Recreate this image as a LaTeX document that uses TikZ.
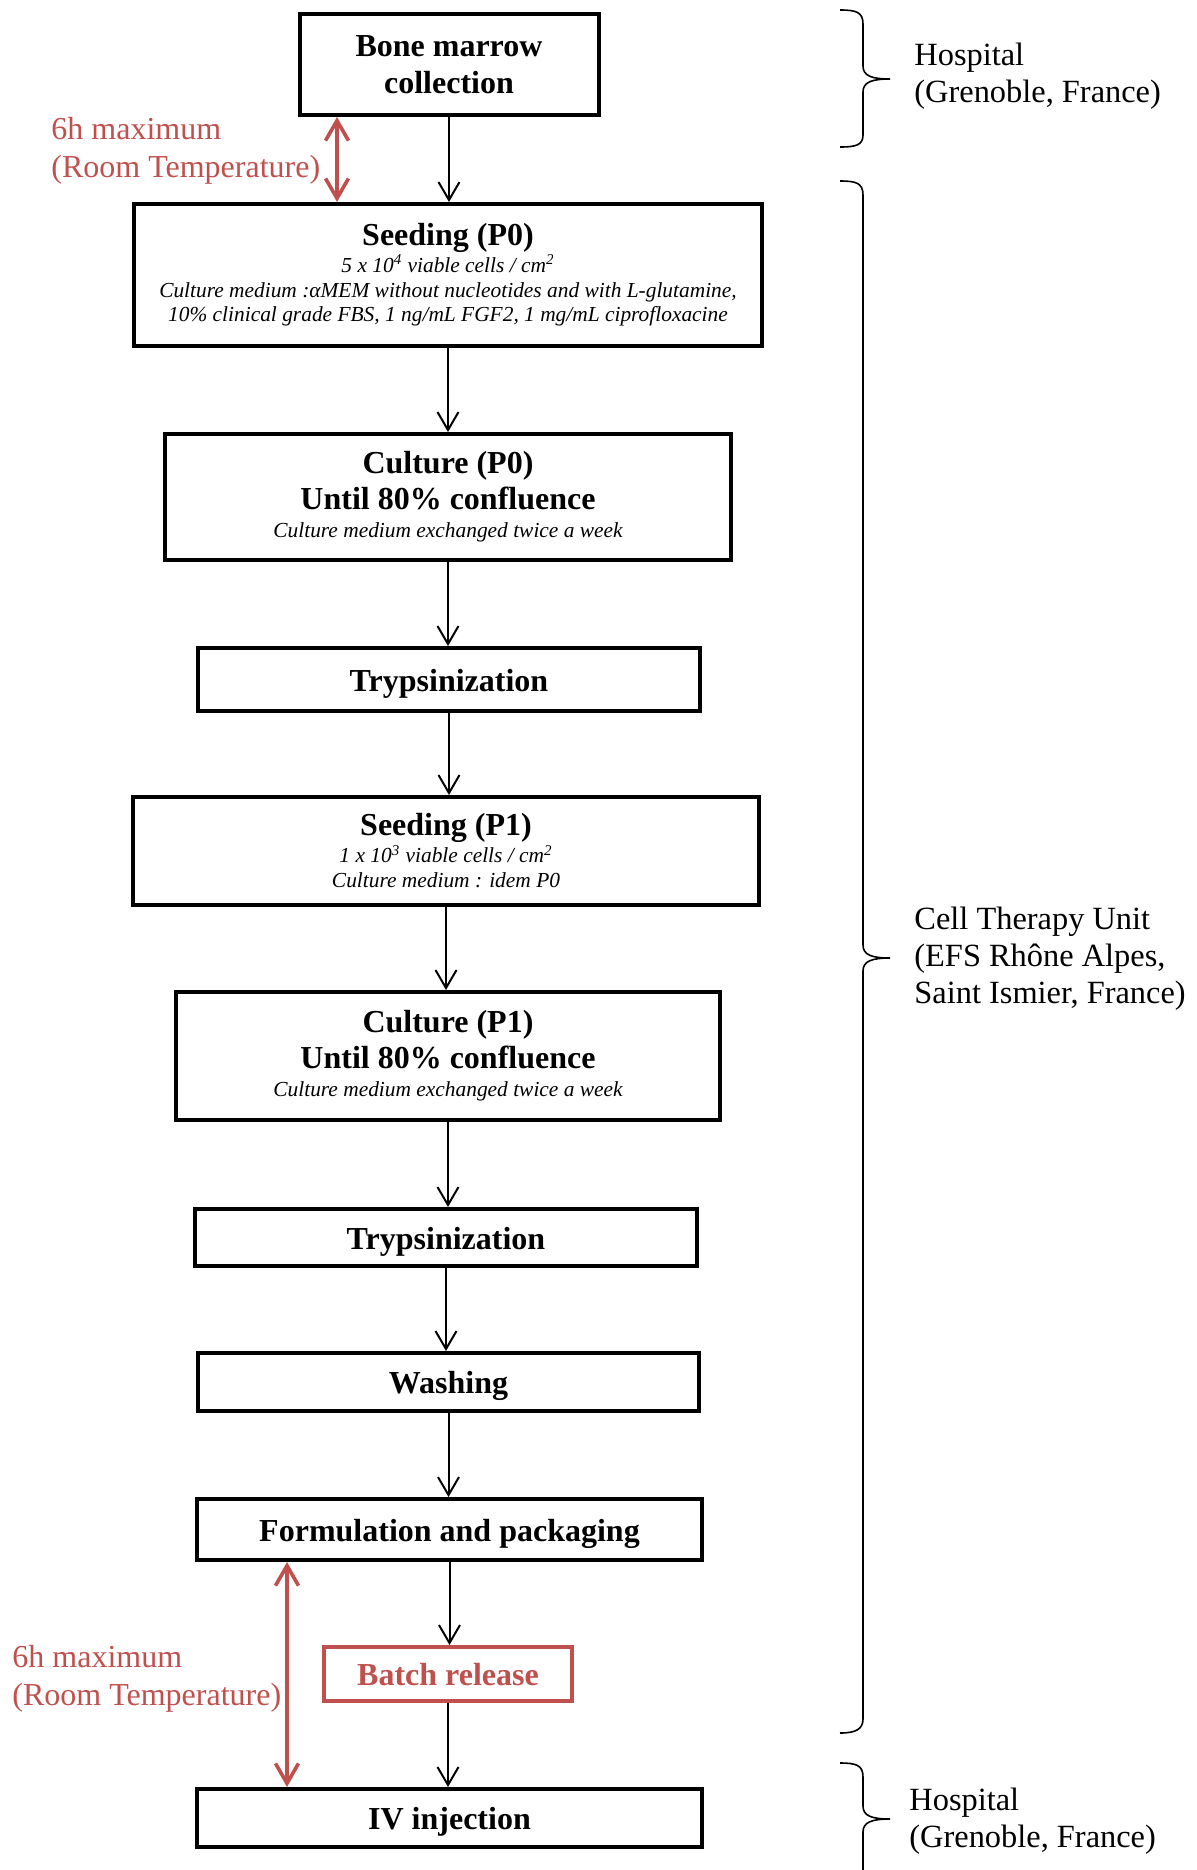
\documentclass[tikz,border=0pt]{standalone}
\usepackage{fontspec}
\setmainfont{Liberation Serif}
\usetikzlibrary{arrows.meta}
\definecolor{myred}{RGB}{192,80,77}
\newcommand\smallit[1]{{\fontsize{10.7}{12}\selectfont\mdseries\itshape #1}}
\begin{document}
\begin{tikzpicture}[x=0.5pt,y=-0.5pt,
  box/.style={draw, line width=2pt, inner sep=0pt, align=center, font=\fontsize{16}{18}\selectfont\bfseries},
  onebox/.style={box, text height=11.5pt, text depth=0pt},
  arr/.style={line width=1pt, -{Straight Barb[length=9pt,width=10.5pt]}},
  redarr/.style={myred, line width=1.8pt, {Straight Barb[length=10pt,width=11.5pt]}-{Straight Barb[length=10pt,width=11.5pt]}},
  bracestyle/.style={line width=0.8pt},
  side/.style={anchor=north west, inner sep=0pt, align=left, font=\fontsize{16.2}{18.5}\selectfont},
  redtxt/.style={anchor=north west, inner sep=0pt, align=left, text=myred, font=\fontsize{16}{18.75}\selectfont}]

\useasboundingbox (0,0) rectangle (1196,1870);

% boxes
\node[box, minimum width=149.5pt, minimum height=50.5pt] (bone) at (449,64.5) {Bone marrow\\[0.5pt]collection};
\node[box, minimum width=314pt, minimum height=71pt] (seed0) at (448,275) {Seeding (P0)\\[-4.5pt]\smallit{5 x 10\textsuperscript{4} viable cells / cm\textsuperscript{2}}\\[-5.75pt]\smallit{Culture medium :αMEM without nucleotides and with L-glutamine,}\\[-5.75pt]\smallit{10\% clinical grade FBS, 1 ng/mL FGF2, 1 mg/mL ciprofloxacine}};
\node[box, minimum width=283pt, minimum height=63pt] (cult0) at (448,497) {Culture (P0)\\[0pt]Until 80\% confluence\\[-4pt]\smallit{Culture medium exchanged twice a week}};
\node[onebox, minimum width=251pt, minimum height=31.5pt] (tryp1) at (449,679.5) {Trypsinization};
\node[box, minimum width=313pt, minimum height=54pt] (seed1) at (446,851) {Seeding (P1)\\[-4.5pt]\smallit{1 x 10\textsuperscript{3} viable cells / cm\textsuperscript{2}}\\[-5.5pt]\smallit{Culture medium : idem P0}};
\node[box, minimum width=272pt, minimum height=64pt] (cult1) at (448,1056) {Culture (P1)\\[0pt]Until 80\% confluence\\[-4pt]\smallit{Culture medium exchanged twice a week}};
\node[onebox, minimum width=251pt, minimum height=28.5pt] (tryp2) at (446,1237.5) {Trypsinization};
\node[onebox, minimum width=250.5pt, minimum height=29pt] (wash) at (448.5,1382) {Washing};
\node[onebox, minimum width=252.5pt, minimum height=30.5pt] (form) at (449.5,1529.5) {Formulation and packaging};
\node[onebox, draw=myred, text=myred, minimum width=124pt, minimum height=27pt] (batch) at (448,1674) {Batch release};
\node[onebox, minimum width=252.5pt, minimum height=29pt] (iv) at (449.5,1818) {IV injection};

% connectors
\draw[arr] (bone.south) -- (bone.south |- seed0.north);
\draw[arr] (seed0.south) -- (seed0.south |- cult0.north);
\draw[arr] (cult0.south) -- (cult0.south |- tryp1.north);
\draw[arr] (tryp1.south) -- (tryp1.south |- seed1.north);
\draw[arr] (seed1.south) -- (seed1.south |- cult1.north);
\draw[arr] (cult1.south) -- (cult1.south |- tryp2.north);
\draw[arr] (tryp2.south) -- (tryp2.south |- wash.north);
\draw[arr] (wash.south) -- (wash.south |- form.north);
\draw[arr] (form.south) -- (form.south |- batch.north);
\draw[arr] (batch.south) -- (batch.south |- iv.north);

% red time constraints
\coordinate (ra) at (337,0);
\coordinate (rb) at (287,0);
\draw[redarr] (ra |- bone.south) -- (ra |- seed0.north);
\draw[redarr] (rb |- form.south) -- (rb |- iv.north);
\node[redtxt] (lab1) at (51,117) {6h maximum\\(Room Temperature)};
\node[redtxt] (lab2) at (12,1645) {6h maximum\\(Room Temperature)};

% braces
\draw[bracestyle] (840,10) .. controls (856,10) and (863,12) .. (863,24) -- (863,66) .. controls (863,76) and (872,79) .. (890,79) .. controls (872,79) and (863,82) .. (863,92) -- (863,135) .. controls (863,145) and (856,147) .. (840,147);
\draw[bracestyle] (840,181) .. controls (856,181) and (863,183) .. (863,195) -- (863,945) .. controls (863,955) and (872,958) .. (890,958) .. controls (872,958) and (863,961) .. (863,971) -- (863,1719) .. controls (863,1729) and (856,1733) .. (840,1733);
\draw[bracestyle] (840,1763) .. controls (856,1763) and (863,1765) .. (863,1777) -- (863,1806) .. controls (863,1816) and (872,1819) .. (890,1819) .. controls (872,1819) and (863,1822) .. (863,1832) -- (863,1870);

\node[side] (hosp1) at (914,43) {Hospital\\(Grenoble, France)};
\node[side] (ctu) at (914,907) {Cell Therapy Unit\\(EFS Rhône Alpes,\\Saint Ismier, France)};
\node[side] (hosp2) at (909,1788) {Hospital\\(Grenoble, France)};
\end{tikzpicture}
\end{document}
